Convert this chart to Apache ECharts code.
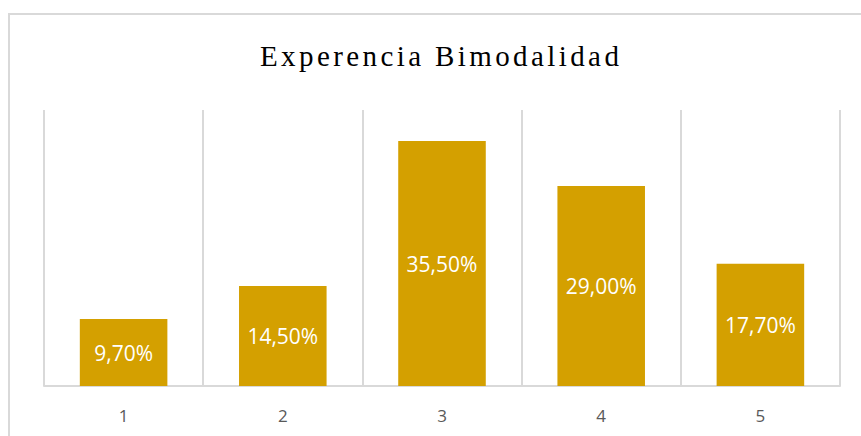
<!DOCTYPE html>
<html>
<head>
<meta charset="utf-8">
<script src="https://cdn.jsdelivr.net/npm/echarts@6/dist/echarts.min.js"></script>
<style>
  html, body { margin: 0; padding: 0; background: #fff; }
  #frame { position: absolute; left: 8px; top: 13px; width: 870px; height: 440px; border: 2px solid #d9d9d9; box-sizing: border-box; }
  #chart { position: absolute; left: 0; top: 0; width: 861px; height: 436px; }
  #chart text[style*="Serif"] { letter-spacing: 3.4px; }
</style>
</head>
<body>
<div id="frame"></div>
<div id="chart"></div>
<script>
const titleText = 'Experencia Bimodalidad';
const categories = ['1', '2', '3', '4', '5'];
const values = [9.7, 14.5, 35.5, 29.0, 17.7];
const labels = ['9,70%', '14,50%', '35,50%', '29,00%', '17,70%'];

const chart = echarts.init(document.getElementById('chart'), null, { renderer: 'svg' });
chart.setOption({
  animation: false,
  title: {
    text: titleText,
    left: 255,
    top: 36,
    padding: 5,
    textStyle: { fontFamily: 'Liberation Serif', fontSize: 29, fontWeight: 'normal', color: '#000' }
  },
  grid: { left: 44, right: 21, top: 110, bottom: 50 },
  xAxis: {
    type: 'category',
    data: categories,
    axisLine: { lineStyle: { color: '#d9d9d9', width: 2 } },
    axisTick: { show: false },
    splitLine: { show: true, lineStyle: { color: '#d9d9d9', width: 2 } },
    axisLabel: { color: '#595959', fontSize: 17, fontFamily: 'Open Sans', margin: 21 }
  },
  yAxis: {
    type: 'value',
    min: 0,
    max: 40,
    show: false,
    splitLine: { show: false }
  },
  series: [{
    type: 'bar',
    data: values,
    barWidth: '55%',
    itemStyle: { color: '#D4A000' },
    label: {
      show: true,
      position: 'inside',
      color: '#fff',
      fontSize: 21,
      fontFamily: 'Open Sans',
      formatter: p => labels[p.dataIndex]
    }
  }]
});
</script>
</body>
</html>
